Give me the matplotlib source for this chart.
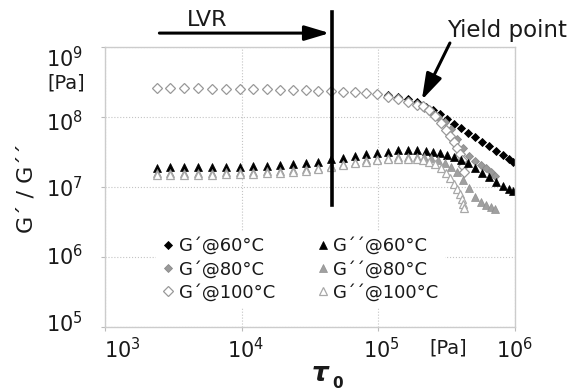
import matplotlib.pyplot as plt
from matplotlib.transforms import ScaledTranslation

# shear stress [Pa], linear viscoelastic part (shared by all temperatures)
tau_plateau = [2.4e3, 3.0e3, 3.8e3, 4.8e3, 6.1e3, 7.7e3, 9.7e3, 1.21e4, 1.53e4, 1.91e4, 2.37e4,
               2.95e4, 3.61e4, 4.5e4, 5.51e4, 6.74e4, 8.11e4, 9.77e4, 1.18e5, 1.39e5, 1.65e5, 1.92e5]

gp60_plateau = [2.6e8, 2.6e8, 2.6e8, 2.6e8, 2.5e8, 2.5e8, 2.5e8, 2.5e8, 2.5e8, 2.45e8, 2.45e8,
                2.45e8, 2.35e8, 2.35e8, 2.28e8, 2.28e8, 2.2e8, 2.13e8, 2.05e8, 1.95e8, 1.8e8, 1.62e8]
gp80_plateau = [2.6e8, 2.6e8, 2.6e8, 2.6e8, 2.5e8, 2.5e8, 2.5e8, 2.5e8, 2.5e8, 2.45e8, 2.45e8,
                2.45e8, 2.35e8, 2.35e8, 2.28e8, 2.28e8, 2.2e8, 2.13e8, 2.0e8, 1.87e8, 1.72e8, 1.55e8]
gp100_plateau = [2.6e8, 2.6e8, 2.6e8, 2.6e8, 2.5e8, 2.5e8, 2.5e8, 2.5e8, 2.5e8, 2.45e8, 2.45e8,
                 2.45e8, 2.35e8, 2.35e8, 2.28e8, 2.28e8, 2.2e8, 2.1e8, 1.95e8, 1.82e8, 1.65e8, 1.5e8]

gpp60_plateau = [1.87e7, 1.93e7, 1.93e7, 1.93e7, 1.93e7, 1.93e7, 1.93e7, 2.0e7, 2.0e7, 2.06e7, 2.13e7,
                 2.2e7, 2.28e7, 2.51e7, 2.6e7, 2.77e7, 2.96e7, 3.06e7, 3.16e7, 3.38e7, 3.38e7, 3.38e7]
gpp80_plateau = [1.58e7, 1.58e7, 1.58e7, 1.58e7, 1.58e7, 1.64e7, 1.64e7, 1.64e7, 1.69e7, 1.69e7, 1.75e7,
                 1.81e7, 1.87e7, 2.0e7, 2.13e7, 2.28e7, 2.43e7, 2.51e7, 2.6e7, 2.68e7, 2.68e7, 2.68e7]
gpp100_plateau = [1.5e7, 1.5e7, 1.5e7, 1.5e7, 1.5e7, 1.55e7, 1.55e7, 1.55e7, 1.6e7, 1.6e7, 1.65e7,
                  1.72e7, 1.78e7, 1.9e7, 2.03e7, 2.17e7, 2.3e7, 2.4e7, 2.48e7, 2.55e7, 2.55e7, 2.5e7]

# beyond the yield point
tau60_tail = [2.23e5, 2.51e5, 2.82e5, 3.18e5, 3.57e5, 4.02e5, 4.52e5, 5.09e5, 5.73e5, 6.44e5,
              7.25e5, 8.15e5, 9.01e5, 9.66e5]
gp60_tail = [1.39e8, 1.26e8, 1.1e8, 9.36e7, 7.94e7, 6.97e7, 5.9e7, 5.18e7, 4.39e7, 3.85e7,
             3.27e7, 2.86e7, 2.51e7, 2.28e7]
gpp60_tail = [3.27e7, 3.16e7, 3.06e7, 2.86e7, 2.68e7, 2.43e7, 2.2e7, 1.87e7, 1.58e7, 1.39e7,
              1.18e7, 1.03e7, 9.36e6, 8.77e6]

tau80_tail = [2.16e5, 2.43e5, 2.73e5, 3.07e5, 3.4e5, 3.76e5, 4.16e5, 4.6e5, 5.09e5, 5.64e5,
              6.13e5, 6.66e5, 7.13e5]
gp80_tail = [1.35e8, 1.14e8, 1.0e8, 8.49e7, 6.74e7, 4.85e7, 3.61e7, 2.77e7, 2.35e7, 2.06e7,
             1.87e7, 1.64e7, 1.44e7]
gpp80_tail = [2.68e7, 2.6e7, 2.43e7, 2.2e7, 1.93e7, 1.64e7, 1.26e7, 9.68e6, 7.2e6, 6.11e6,
              5.53e6, 5.18e6, 4.85e6]

tau100_tail = [2.12e5, 2.34e5, 2.59e5, 2.87e5, 3.12e5, 3.34e5, 3.57e5, 3.76e5, 3.95e5, 4.09e5,
               4.16e5, 4.23e5]
gp100_tail = [1.44e8, 1.26e8, 1.03e8, 8.2e7, 6.51e7, 5.35e7, 4.39e7, 3.61e7, 2.96e7, 2.43e7,
              2.0e7, 1.64e7]
gpp100_tail = [2.43e7, 2.28e7, 2.13e7, 1.87e7, 1.58e7, 1.35e7, 1.1e7, 9.36e6, 7.94e6, 6.74e6,
               5.72e6, 5.01e6]

tau_lvr = 4.6e4
xticks = [1e3, 1e4, 1e5, 1e6]
yticks = [1e5, 1e6, 1e7, 1e8, 1e9]

fig = plt.figure(figsize=(5.8, 3.91), dpi=100)
ax = fig.add_axes([105 / 580, 64 / 391, 410 / 580, 280 / 391])
ax.set_xscale('log')
ax.set_yscale('log')
ax.set_xlim(1e3, 1e6)
ax.set_ylim(1e5, 1e9)

txt = '#1a1a1a'
h = []
h += ax.plot(tau_plateau + tau60_tail, gp60_plateau + gp60_tail, ls='none', marker='D', ms=3.8,
             mfc='black', mec='black', mew=0.6, label='G´@60°C')
h += ax.plot(tau_plateau + tau80_tail, gp80_plateau + gp80_tail, ls='none', marker='D', ms=4.3,
             mfc='#9a9a9a', mec='#8a8a8a', mew=0.6, label='G´@80°C')
h += ax.plot(tau_plateau + tau100_tail, gp100_plateau + gp100_tail, ls='none', marker='D', ms=5,
             mfc='white', mec='#999999', mew=0.9, label='G´@100°C')
h += ax.plot(tau_plateau + tau60_tail, gpp60_plateau + gpp60_tail, ls='none', marker='^', ms=5.8,
             mfc='black', mec='black', mew=0.5, label='G´´@60°C')
h += ax.plot(tau_plateau + tau80_tail, gpp80_plateau + gpp80_tail, ls='none', marker='^', ms=5.8,
             mfc='#a0a0a0', mec='#909090', mew=0.5, label='G´´@80°C')
h += ax.plot(tau_plateau + tau100_tail, gpp100_plateau + gpp100_tail, ls='none', marker='^', ms=5.8,
             mfc='white', mec='#a8a8a8', mew=0.9, label='G´´@100°C')

# axes styling
ax.set_axisbelow(True)
ax.grid(True, which='major', ls=':', lw=0.8, color='#c4c4c4')
ax.minorticks_off()
for s in ax.spines.values():
    s.set_color('#cccccc')
    s.set_linewidth(1)
ax.set_xticks(xticks)
ax.set_yticks(yticks)
ax.tick_params(axis='both', length=3, color='#bbbbbb', labelsize=15, labelcolor=txt)
ax.tick_params(axis='y', pad=13)
ax.tick_params(axis='x', pad=4)

# tick labels in the source are not exactly centred on their ticks
xoffs = [17, 4, 3, 0]
yoffs = [-5, -2, 0, 4, 10]
for lab, dx in zip(ax.get_xticklabels(), xoffs):
    lab.set_transform(lab.get_transform() + ScaledTranslation(dx / 100, 0, fig.dpi_scale_trans))
for lab, dy in zip(ax.get_yticklabels(), yoffs):
    lab.set_transform(lab.get_transform() + ScaledTranslation(0, -dy / 100, fig.dpi_scale_trans))

# LVR marker line and arrows
ax.plot([tau_lvr, tau_lvr], [5.5e6, 3.2e9], color='black', lw=2.6, clip_on=False, zorder=5)
ax.annotate('', xy=(4.4e4, 1.58e9), xytext=(2.5e3, 1.58e9), annotation_clip=False,
            arrowprops=dict(arrowstyle='-|>,head_length=1.5,head_width=0.45', lw=2.2,
                            color='black', mutation_scale=10, shrinkA=0, shrinkB=0))
ax.text(5.6e3, 2.45e9, 'LVR', ha='center', va='center', fontsize=16, color=txt, clip_on=False)

ax.annotate('', xy=(2.08e5, 1.75e8), xytext=(3.34e5, 1.14e9), annotation_clip=False,
            arrowprops=dict(arrowstyle='-|>,head_length=1.6,head_width=0.5', lw=2.2,
                            color='black', mutation_scale=10, shrinkA=0, shrinkB=0))
ax.text(3.2e5, 1.7e9, 'Yield point', ha='left', va='center', fontsize=16.5, color=txt,
        clip_on=False)

# legend: first column G', second column G''
leg = ax.legend(handles=h, ncol=2, loc='upper left', bbox_to_anchor=(0.124, 0.341),
                fontsize=13, frameon=True, fancybox=False, edgecolor='white', facecolor='white',
                framealpha=1, borderpad=0.3, borderaxespad=0, handlelength=0.8,
                handletextpad=0.2, columnspacing=2.2, labelspacing=0.3)
for t in leg.get_texts():
    t.set_color(txt)

# axis titles and units
fig.text(27 / 580, 1 - 188 / 391, 'G´ / G´´', rotation=90, ha='center', va='center',
         fontsize=16, color=txt)
fig.text(66 / 580, 1 - 83 / 391, '[Pa]', ha='center', va='center', fontsize=14, color=txt)
fig.text(448 / 580, 1 - 348 / 391, '[Pa]', ha='center', va='center', fontsize=14, color=txt)
fig.text(320 / 580, 1 - 374 / 391, 'τ', ha='center', va='center', fontsize=19,
         fontweight='bold', style='italic', color=txt)
fig.text(338 / 580, 1 - 384 / 391, '0', ha='center', va='center', fontsize=11,
         fontweight='bold', color=txt)

fig.savefig('out.png', dpi=100)
